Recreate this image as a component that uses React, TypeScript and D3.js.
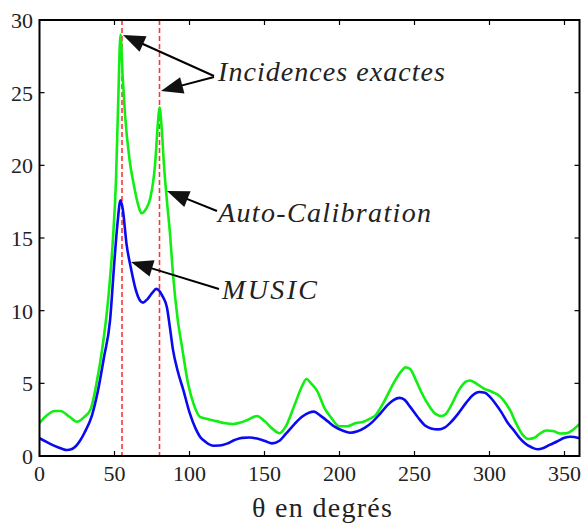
import React from "react";
import * as d3 from "d3";

const autoAngles = [0,5,10,14,20,25,30,34,38,42,46,49,51,52.5,54,55.5,57,60,63,66,68,71,74,77,79,80,81.5,83,85,87,89,92,95,99,103,107,112,118,124,129,134,139,145,150,155,160,164,170,175,178,181,185,190,194,200,205,211,216,220,224,230,236,241,244,247,251,255,260,264,268,271,274,280,284,287,291,296,302,307,311,314,317,320,323,326,330,333,338,343,347,351,355,360];
const autoValues = [2.27,2.8,3.1,3.1,2.7,2.36,2.7,3.2,5.0,7.5,11,15,19,24.5,29,26,23.5,20.4,18.6,17.2,16.7,17,17.8,20,23,24,22.5,20,17.5,15.3,12.5,9.5,7.5,5.0,3.5,2.7,2.55,2.4,2.25,2.2,2.3,2.5,2.75,2.4,1.9,1.57,2.0,3.5,4.8,5.3,5.0,4.5,3.3,2.7,2.05,2.05,2.27,2.36,2.55,2.8,3.8,5.0,5.8,6.1,6.0,5.2,4.3,3.4,2.9,2.75,2.9,3.4,4.6,5.1,5.2,5.0,4.66,4.4,4.1,3.6,3.1,2.4,1.8,1.35,1.17,1.25,1.5,1.75,1.7,1.55,1.56,1.75,2.2];

const musicAngles = [0,5,10,15,18,22,27,30,35,39,43,47,50,52,54,55.5,58,61,64,67,69,72,75,78,80,82,85,87,89,92,96,100,104,107,111,116,120,125,130,135,140,145,150,155,160,164,170,175,180,183,187,192,197,202,207,212,217,222,227,232,236,240,243,247,252,257,261,266,270,274,279,284,289,293,297,300,304,308,312,316,320,324,328,332,336,340,345,350,354,360];
const musicValues = [1.22,0.95,0.7,0.5,0.41,0.5,1.05,1.6,2.8,4.5,6.8,9.3,13.5,16,17.6,17,14.6,12.9,11.5,10.7,10.55,10.8,11.2,11.5,11.35,11,10.2,8.8,7.3,5.9,4.5,3.0,1.9,1.33,0.95,0.71,0.72,0.85,1.1,1.25,1.27,1.2,1.05,0.87,1.05,1.5,2.2,2.7,3.0,3.05,2.8,2.4,2.0,1.75,1.6,1.7,1.95,2.35,2.9,3.5,3.85,4.0,3.9,3.4,2.7,2.1,1.9,1.83,1.95,2.3,2.9,3.6,4.2,4.4,4.35,4.1,3.6,3.0,2.3,1.8,1.25,0.85,0.6,0.46,0.55,0.76,1.0,1.25,1.32,1.22];

const trueIncidences = [55, 80];
const xTicks = [0, 50, 100, 150, 200, 250, 300, 350];
const yTicks = [0, 5, 10, 15, 20, 25, 30];

const W = 583, H = 527;
const L = 39.5, R = 579.5, T = 20, B = 456;
const FONT = '"Liberation Serif", "DejaVu Serif", serif';

function Arrow({ x1, y1, x2, y2 }: { x1: number; y1: number; x2: number; y2: number }) {
  const dx = x2 - x1, dy = y2 - y1;
  const len = Math.hypot(dx, dy);
  const ux = dx / len, uy = dy / len;
  const hl = 22, hw = 8.5;
  const bx = x2 - ux * hl, by = y2 - uy * hl;
  const px = -uy, py = ux;
  return (
    <g>
      <line x1={x1} y1={y1} x2={bx + ux * 2} y2={by + uy * 2} stroke="#000" strokeWidth={2} />
      <polygon points={`${x2},${y2} ${bx + px * hw},${by + py * hw} ${bx - px * hw},${by - py * hw}`} fill="#111" />
    </g>
  );
}

export default function App() {
  const x = d3.scaleLinear().domain([0, 360]).range([L, R]);
  const y = d3.scaleLinear().domain([0, 30]).range([B, T]);
  const line = d3.line<[number, number]>().x(d => x(d[0])).y(d => y(d[1])).curve(d3.curveMonotoneX);
  const autoPath = line(autoAngles.map((a, i) => [a, autoValues[i]]) as [number, number][]) || "";
  const musicPath = line(musicAngles.map((a, i) => [a, musicValues[i]]) as [number, number][]) || "";
  const tick = 5;
  return (
    <svg width={W} height={H} style={{ position: "absolute", left: 0, top: 0, background: "#fff" }} fontFamily={FONT}>
      <defs>
        <clipPath id="plot"><rect x={L} y={T} width={R - L} height={B - T} /></clipPath>
      </defs>
      <g clipPath="url(#plot)">
        {trueIncidences.map(t => (
          <line key={t} x1={x(t)} x2={x(t)} y1={T} y2={B} stroke="#ff3333" strokeWidth={1.6} strokeDasharray="5,3" />
        ))}
        <path d={autoPath} fill="none" stroke="#11ee11" strokeWidth={2.6} strokeLinejoin="round" />
        <path d={musicPath} fill="none" stroke="#0a0af0" strokeWidth={2.6} strokeLinejoin="round" />
      </g>
      {xTicks.map(t => (
        <g key={"x" + t}>
          <line x1={x(t)} x2={x(t)} y1={B} y2={B - tick} stroke="#000" strokeWidth={1.2} />
          <line x1={x(t)} x2={x(t)} y1={T} y2={T + tick} stroke="#000" strokeWidth={1.2} />
          <text x={x(t)} y={481} textAnchor="middle" fontSize={22} fill="#222">{t}</text>
        </g>
      ))}
      {yTicks.map(t => (
        <g key={"y" + t}>
          <line x1={L} x2={L + tick} y1={y(t)} y2={y(t)} stroke="#000" strokeWidth={1.2} />
          <line x1={R} x2={R - tick} y1={y(t)} y2={y(t)} stroke="#000" strokeWidth={1.2} />
          <text x={33} y={y(t) + 8} textAnchor="end" fontSize={22} fill="#222">{t}</text>
        </g>
      ))}
      <rect x={L} y={T} width={R - L} height={B - T} fill="none" stroke="#000" strokeWidth={2} />
      <text x={252} y={517} fontSize={28} fill="#222" textLength={140} lengthAdjust="spacing">θ en degrés</text>
      <Arrow x1={214} y1={76} x2={123} y2={35} />
      <Arrow x1={214} y1={77} x2={161} y2={91} />
      <Arrow x1={217} y1={211} x2={167} y2={191} />
      <Arrow x1={219} y1={289} x2={131} y2={262} />
      <text x={218} y={81} fontSize={28} fill="#222" fontStyle="italic" textLength={227} lengthAdjust="spacing">Incidences exactes</text>
      <text x={218} y={222} fontSize={28} fill="#222" fontStyle="italic" textLength={213} lengthAdjust="spacing">Auto-Calibration</text>
      <text x={222} y={299} fontSize={28} fill="#222" fontStyle="italic" textLength={95} lengthAdjust="spacing">MUSIC</text>
    </svg>
  );
}
